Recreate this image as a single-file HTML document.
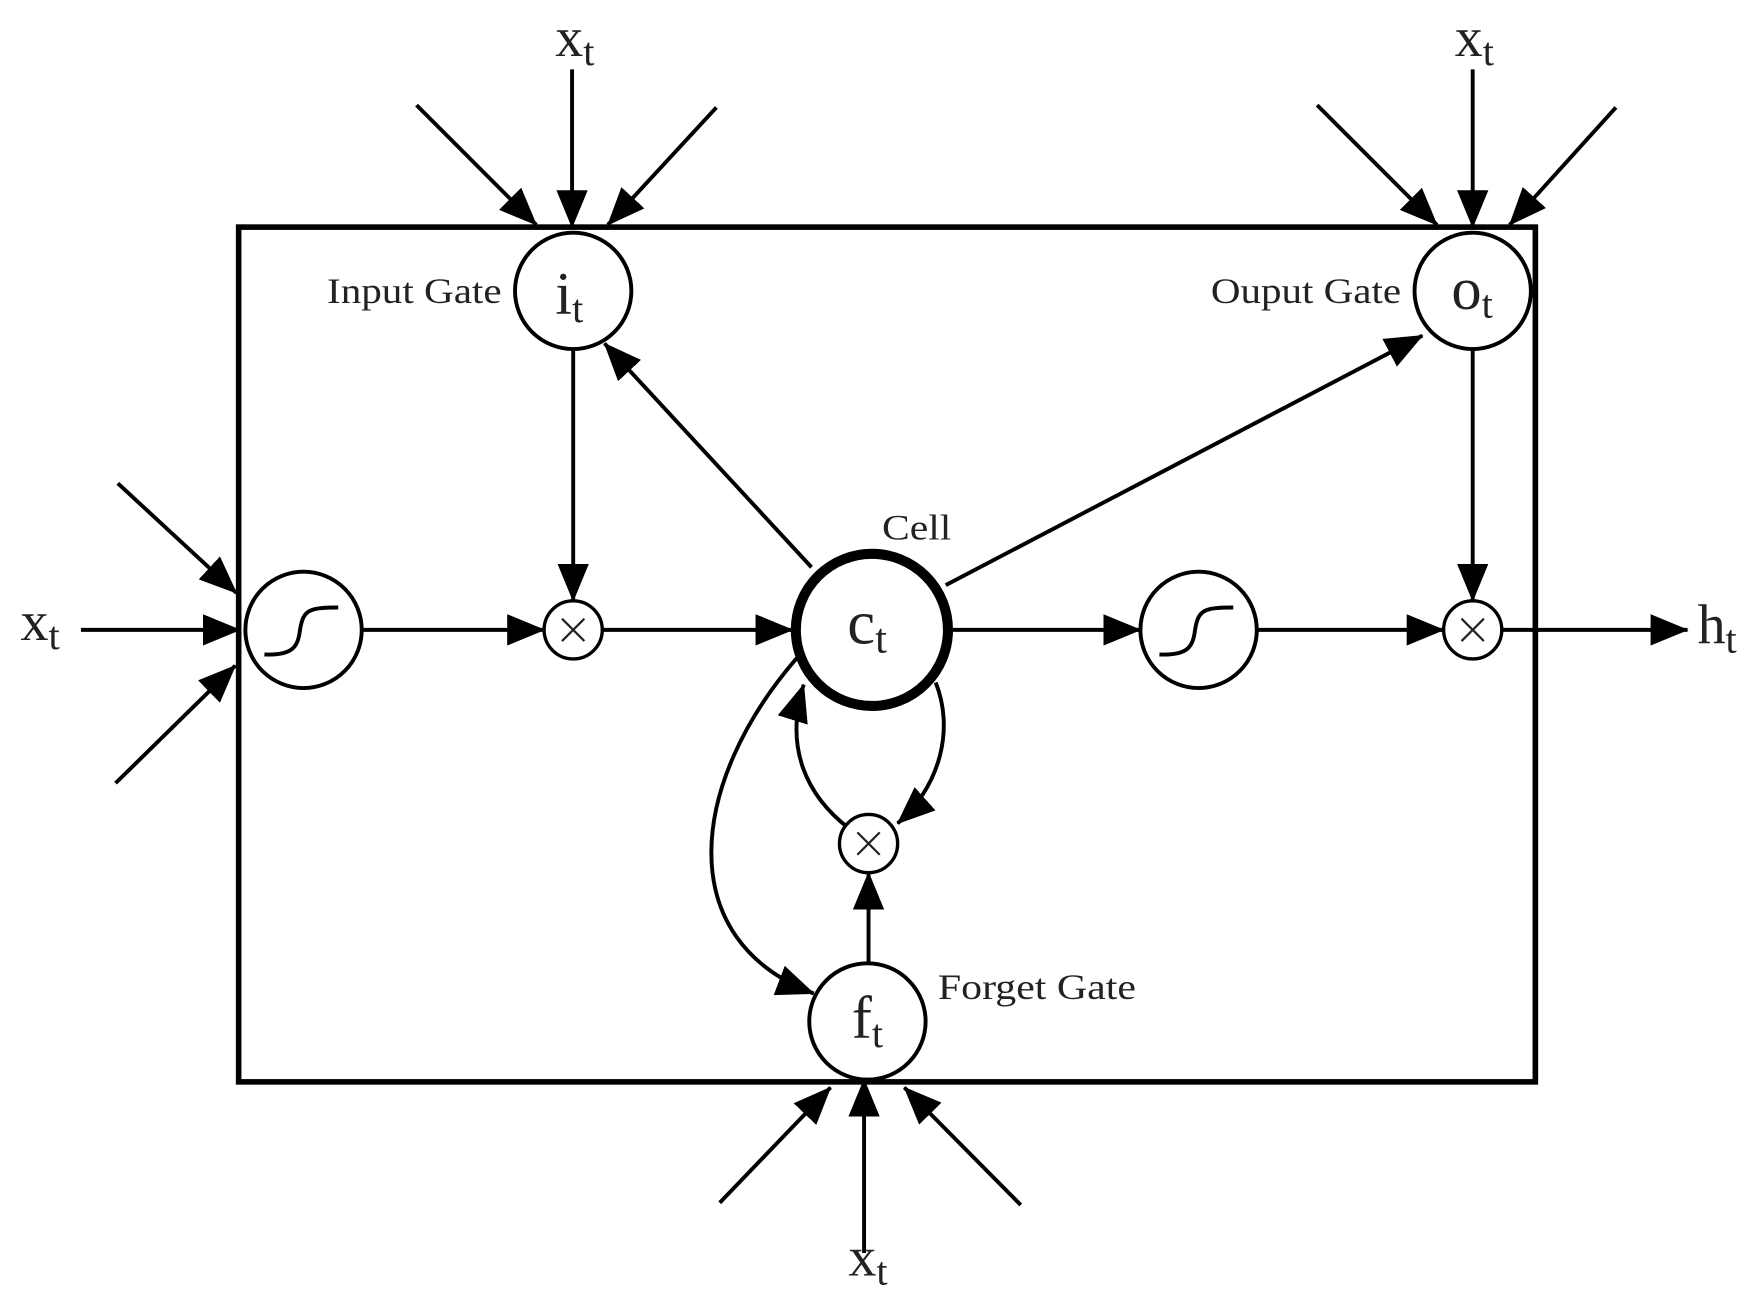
<!DOCTYPE html>
<html><head><meta charset="utf-8"><style>
html,body{margin:0;padding:0;background:#fff;}
svg{display:block;}
text{font-family:"Liberation Serif",serif;fill:#222;}
</style></head><body>
<svg width="1755" height="1309" viewBox="0 0 1568 1170" xmlns="http://www.w3.org/2000/svg">
<defs>
<marker id="a" markerUnits="userSpaceOnUse" markerWidth="34" markerHeight="28" viewBox="0 0 34 28" refX="33" refY="14" orient="auto">
<path d="M0,0 L34,14 L0,28 Z" fill="#000"/>
</marker>
</defs>
<g fill="none" stroke="#000" stroke-width="3.5">
<rect x="213" y="203" width="1159" height="764" stroke-width="5"/>
<line x1="511" y1="62" x2="511" y2="203" marker-end="url(#a)"/>
<line x1="372" y1="94" x2="479" y2="201" marker-end="url(#a)"/>
<line x1="640" y1="96" x2="543" y2="201" marker-end="url(#a)"/>
<line x1="1316" y1="62" x2="1316" y2="203" marker-end="url(#a)"/>
<line x1="1177" y1="94" x2="1284" y2="201" marker-end="url(#a)"/>
<line x1="1444" y1="96" x2="1349" y2="201" marker-end="url(#a)"/>
<line x1="72" y1="563" x2="214" y2="563" marker-end="url(#a)"/>
<line x1="105" y1="432" x2="211" y2="530" marker-end="url(#a)"/>
<line x1="103" y1="700" x2="210" y2="595" marker-end="url(#a)"/>
<line x1="772" y1="1120" x2="772" y2="965" marker-end="url(#a)"/>
<line x1="643" y1="1075" x2="742" y2="972" marker-end="url(#a)"/>
<line x1="912" y1="1077" x2="808" y2="972" marker-end="url(#a)"/>
<line x1="512" y1="312" x2="512" y2="537" marker-end="url(#a)"/>
<line x1="323" y1="563" x2="486" y2="563" marker-end="url(#a)"/>
<line x1="538" y1="563" x2="708" y2="563" marker-end="url(#a)"/>
<line x1="850" y1="563" x2="1019" y2="563" marker-end="url(#a)"/>
<line x1="1123" y1="563" x2="1290" y2="563" marker-end="url(#a)"/>
<line x1="1342" y1="563" x2="1508" y2="563" marker-end="url(#a)"/>
<line x1="1316" y1="312" x2="1316" y2="537" marker-end="url(#a)"/>
<line x1="725" y1="507" x2="540" y2="307" marker-end="url(#a)"/>
<line x1="845" y1="523" x2="1271" y2="300" marker-end="url(#a)"/>
<line x1="776" y1="860" x2="776" y2="780" marker-end="url(#a)"/>
<path d="M712,588 C615,700 600,840 727,888" marker-end="url(#a)"/>
<path d="M758,740 C722,712 700,670 718,612" marker-end="url(#a)"/>
<path d="M836,610 C852,650 842,700 802,736" marker-end="url(#a)"/>
<circle cx="512" cy="260" r="52" fill="#fff"/>
<circle cx="1316" cy="260" r="52" fill="#fff"/>
<circle cx="775" cy="913" r="52" fill="#fff"/>
<circle cx="271" cy="563" r="52" fill="#fff"/>
<circle cx="1071" cy="563" r="52" fill="#fff"/>
<circle cx="512" cy="563" r="26" fill="#fff" stroke-width="3"/>
<circle cx="1316" cy="563" r="26" fill="#fff" stroke-width="3"/>
<circle cx="776" cy="754" r="26" fill="#fff" stroke-width="3"/>
<circle cx="779" cy="563" r="68" fill="#fff" stroke-width="9"/>
<path d="M265,665" />
<path d="M236,585 C262,586 266,578 268,562 C271,545 276,543 302,543"/>
<path d="M1036,585 C1062,586 1066,578 1068,562 C1071,545 1076,543 1102,543"/>
</g>
<g stroke="#222" stroke-width="2">
<line x1="502" y1="553" x2="522" y2="573"/><line x1="522" y1="553" x2="502" y2="573"/>
<line x1="1306" y1="553" x2="1326" y2="573"/><line x1="1326" y1="553" x2="1306" y2="573"/>
<line x1="766" y1="744" x2="786" y2="764"/><line x1="786" y1="744" x2="766" y2="764"/>
</g>
<g font-size="50">
<text x="496" y="50">x<tspan font-size="36" dy="8">t</tspan></text>
<text x="1300" y="50">x<tspan font-size="36" dy="8">t</tspan></text>
<text x="18" y="572">x<tspan font-size="36" dy="8">t</tspan></text>
<text x="758" y="1140">x<tspan font-size="36" dy="8">t</tspan></text>
<text x="1517" y="575">h<tspan font-size="36" dy="8">t</tspan></text>
<text x="496" y="280" font-size="54">i<tspan font-size="36" dy="8">t</tspan></text>
<text x="1297" y="276" font-size="54">o<tspan font-size="36" dy="8">t</tspan></text>
<text x="761" y="928" font-size="54">f<tspan font-size="36" dy="8">t</tspan></text>
<text x="757" y="575" font-size="56">c<tspan font-size="38" dy="8">t</tspan></text>
</g>
<g font-size="32">
<text x="292" y="271" textLength="156" lengthAdjust="spacingAndGlyphs">Input Gate</text>
<text x="1082" y="271" textLength="170" lengthAdjust="spacingAndGlyphs">Ouput Gate</text>
<text x="788" y="482" textLength="62" lengthAdjust="spacingAndGlyphs">Cell</text>
<text x="838" y="893" textLength="177" lengthAdjust="spacingAndGlyphs">Forget Gate</text>
</g>
</svg>
</body></html>
